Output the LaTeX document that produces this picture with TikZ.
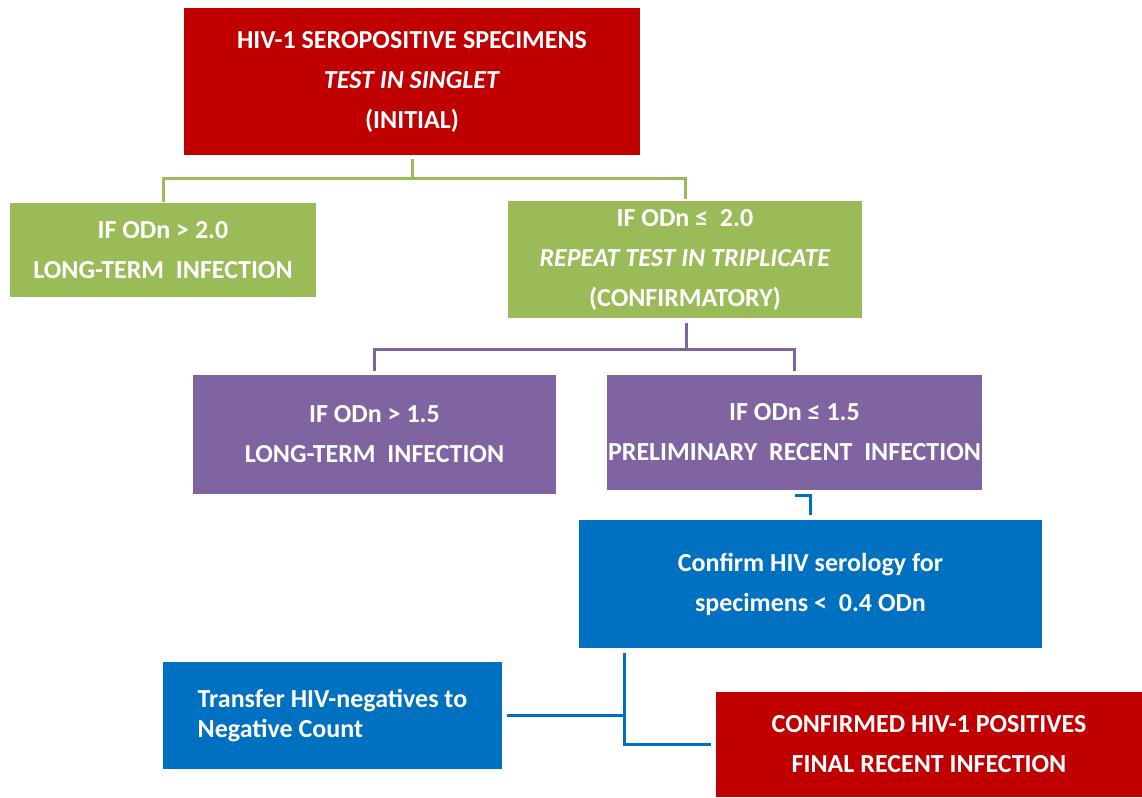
\documentclass[tikz,border=0pt]{standalone}
\usepackage{fontspec}
\setmainfont{Carlito}
\definecolor{cred}{HTML}{C00000}
\definecolor{cgreen}{HTML}{9BBB59}
\definecolor{cpurple}{HTML}{8064A2}
\definecolor{cblue}{HTML}{0070C0}
\tikzset{
  box/.style={draw=none, inner sep=0pt, text=white, align=center,
    font=\bfseries\fontsize{26}{40}\selectfont},
  gline/.style={draw=cgreen, line width=3pt},
  pline/.style={draw=cpurple, line width=3pt},
  bline/.style={draw=cblue, line width=3pt},
}
\begin{document}
\begin{tikzpicture}[x=1pt,y=-1pt]
\useasboundingbox (0,0) rectangle (1142,797);
\node[box, fill=cred, minimum width=456pt, minimum height=147pt] (top) at (412,81.5)
  {HIV-1 SEROPOSITIVE SPECIMENS\\ \textit{TEST IN SINGLET}\\ (INITIAL)};
\node[box, fill=cgreen, minimum width=306pt, minimum height=94pt] (gl) at (163,250)
  {IF ODn > 2.0\\ LONG-TERM\ \ INFECTION};
\node[box, fill=cgreen, minimum width=354pt, minimum height=117pt] (gr) at (685,259.5)
  {IF ODn ≤\ \ 2.0\\ \textit{REPEAT TEST IN TRIPLICATE}\\ (CONFIRMATORY)};
\node[box, fill=cpurple, minimum width=363pt, minimum height=119pt] (pl) at (374.5,434.5)
  {IF ODn > 1.5\\ LONG-TERM\ \ INFECTION};
\node[box, fill=cpurple, minimum width=375pt, minimum height=115pt] (pr) at (794.5,432.5)
  {IF ODn ≤ 1.5\\ PRELIMINARY\ \ RECENT\ \ INFECTION};
\node[box, fill=cblue, minimum width=463pt, minimum height=128pt] (bm) at (810.5,584)
  {Confirm HIV serology for\\ specimens <\ \ 0.4 ODn};
\node[box, fill=cblue, minimum width=339pt, minimum height=107pt, align=left,
  font=\bfseries\fontsize{26}{30}\selectfont] (bl) at (332.5,715.5)
  {Transfer HIV-negatives to\\ Negative Count};
\node[box, fill=cred, minimum width=426pt, minimum height=105pt] (rb) at (929,744.5)
  {CONFIRMED HIV-1 POSITIVES\\ FINAL RECENT INFECTION};
% green connectors
\coordinate (jg) at (412,178);
\draw[gline] ([yshift=-4pt]top.south -| jg) -- (jg) -| ([yshift=1pt]gl.north);
\draw[gline] (jg) -| ([yshift=2pt]gr.north);
% purple connectors
\coordinate (jp) at (686,349);
\draw[pline] ([yshift=-5pt]gr.south -| jp) -- (jp) -| ([yshift=4pt]pl.north);
\draw[pline] (jp) -| ([yshift=4pt]pr.north);
% blue connectors
\draw[bline] ([yshift=-5pt]pr.south) -| ([yshift=5pt]bm.north);
\coordinate (jb) at (624,653);
\draw[bline] (jb) |- ([xshift=-5pt]rb.west);
\draw[bline] ([xshift=5pt]bl.east) -- (bl.east -| jb);
\end{tikzpicture}
\end{document}
